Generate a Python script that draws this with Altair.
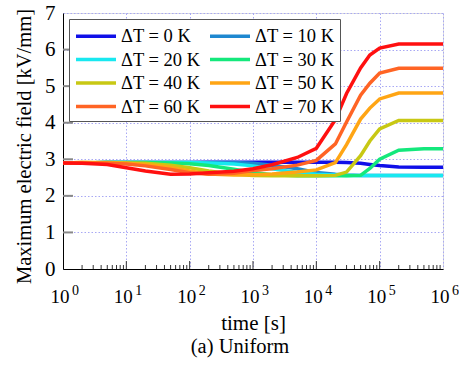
import altair as alt
import pandas as pd

# ---- data ----
times = [1, 2, 5, 10, 20, 50, 100, 200, 500, 1e3, 2e3, 5e3, 1e4, 2e4, 3e4, 5e4, 7e4, 1e5, 2e5, 5e5, 1e6]

series_names = ["ΔT = 0 K", "ΔT = 10 K", "ΔT = 20 K", "ΔT = 30 K",
                "ΔT = 40 K", "ΔT = 50 K", "ΔT = 60 K", "ΔT = 70 K"]
series_colors = ["#1010e8", "#1e88d0", "#18e8f0", "#14e87c",
                 "#c8c814", "#ffa514", "#ff6424", "#ff1010"]

e_0K = [2.90, 2.90, 2.91, 2.91, 2.91, 2.91, 2.91, 2.92, 2.92, 2.92, 2.92, 2.92, 2.92, 2.92, 2.91, 2.89, 2.86, 2.83, 2.79, 2.78, 2.78]
e_10K = [2.90, 2.90, 2.91, 2.91, 2.91, 2.91, 2.91, 2.91, 2.91, 2.89, 2.84, 2.74, 2.64, 2.59, 2.57, 2.56, 2.56, 2.56, 2.56, 2.56, 2.56]
e_20K = [2.90, 2.90, 2.91, 2.91, 2.91, 2.91, 2.91, 2.90, 2.87, 2.82, 2.74, 2.64, 2.59, 2.57, 2.56, 2.56, 2.56, 2.56, 2.56, 2.56, 2.56]
e_30K = [2.90, 2.90, 2.91, 2.91, 2.91, 2.90, 2.88, 2.83, 2.73, 2.64, 2.58, 2.55, 2.55, 2.55, 2.55, 2.56, 2.75, 3.00, 3.25, 3.29, 3.29]
e_40K = [2.90, 2.91, 2.91, 2.90, 2.89, 2.84, 2.77, 2.68, 2.59, 2.56, 2.55, 2.55, 2.55, 2.56, 2.65, 3.10, 3.50, 3.83, 4.06, 4.06, 4.06]
e_50K = [2.90, 2.91, 2.90, 2.89, 2.86, 2.78, 2.68, 2.60, 2.57, 2.58, 2.60, 2.65, 2.71, 2.91, 3.40, 4.10, 4.40, 4.65, 4.81, 4.81, 4.81]
e_60K = [2.90, 2.90, 2.89, 2.87, 2.82, 2.72, 2.63, 2.59, 2.62, 2.69, 2.74, 2.84, 2.97, 3.42, 4.02, 4.75, 5.08, 5.36, 5.49, 5.49, 5.49]
e_70K = [2.90, 2.89, 2.86, 2.77, 2.68, 2.59, 2.60, 2.63, 2.67, 2.74, 2.85, 3.05, 3.30, 4.08, 4.80, 5.50, 5.85, 6.04, 6.15, 6.15, 6.15]

series_values = [e_0K, e_10K, e_20K, e_30K, e_40K, e_50K, e_60K, e_70K]

x_decades = [1, 10, 100, 1000, 10000, 100000, 1000000]
x_tick_base = "10"
x_tick_exponents = ["0", "1", "2", "3", "4", "5", "6"]
x_minor = [k * 10 ** e for e in range(6) for k in range(2, 10)]
x_inner_major = [10, 100, 1000, 10000, 100000]
y_ticks = [0, 1, 2, 3, 4, 5, 6, 7]
y_inner = [1, 2, 3, 4, 5, 6]

rows = []
for idx, (name, vals) in enumerate(zip(series_names, series_values)):
    for t, v in zip(times, vals):
        rows.append({"series": name, "idx": idx, "t": t, "E": v})
df = pd.DataFrame(rows)

FONT = "Liberation Serif"

xscale = alt.Scale(type="log", domain=[1, 1e6])
yscale = alt.Scale(domain=[0, 7])
grid_color = "#a8a8f4"

x_axis = alt.Axis(values=x_decades, title="time [s]", grid=True,
                  gridColor=grid_color, gridDash=[1.5, 2], gridWidth=1,
                  ticks=False, labelPadding=18, labelOffset=-3.5,
                  labelExpr=f"'{x_tick_base}'",
                  labelFont=FONT, labelFontSize=19, labelColor="black",
                  titleFont=FONT, titleFontSize=21, titleFontWeight="normal",
                  titleColor="black", titlePadding=6,
                  domainColor="black", labelFlush=False)
y_axis = alt.Axis(values=y_ticks, title="Maximum electric field [kV/mm]",
                  grid=True, gridColor=grid_color, gridDash=[1.5, 2], gridWidth=1,
                  ticks=False, labelPadding=8,
                  labelFont=FONT, labelFontSize=21, labelColor="black",
                  titleFont=FONT, titleFontSize=20.5, titleFontWeight="normal",
                  titleColor="black", titlePadding=10, titleY=133,
                  domainColor="black")

lines = alt.Chart(df).mark_line(strokeWidth=3.5, clip=True).encode(
    x=alt.X("t:Q", scale=xscale, axis=x_axis),
    y=alt.Y("E:Q", scale=yscale, axis=y_axis),
    color=alt.Color("series:N", sort=series_names,
                    scale=alt.Scale(domain=series_names, range=series_colors),
                    legend=alt.Legend(title=None, orient="none", legendX=6, legendY=6,
                                      columns=2, direction="horizontal",
                                      symbolType="M-2,0H2", symbolSize=400,
                                      symbolStrokeWidth=3.5, labelFont=FONT,
                                      labelFontSize=18.5, labelColor="black",
                                      strokeColor="#555555", fillColor="white",
                                      padding=5, rowPadding=1.5, columnPadding=2,
                                      labelOffset=13, symbolOffset=10)),
    detail="idx:O",
)

minor_df = pd.DataFrame({"t": x_minor})
major_df = pd.DataFrame({"t": x_inner_major})
ytick_df = pd.DataFrame({"E": y_inner})
exp_df = pd.DataFrame({"t": x_decades, "exp": x_tick_exponents})

minor_ticks = alt.Chart(minor_df).mark_rule(color="#333333", strokeWidth=1).encode(
    x=alt.X("t:Q", scale=xscale, axis=x_axis),
    y=alt.value(256), y2=alt.value(252))
major_ticks = alt.Chart(major_df).mark_rule(color="#333333", strokeWidth=1).encode(
    x=alt.X("t:Q", scale=xscale, axis=x_axis),
    y=alt.value(256), y2=alt.value(248))
y_tick_marks = alt.Chart(ytick_df).mark_rule(color="#888888", strokeWidth=2).encode(
    y=alt.Y("E:Q", scale=yscale, axis=y_axis),
    x=alt.value(0), x2=alt.value(10))
exponents = alt.Chart(exp_df).mark_text(font=FONT, fontSize=14, color="black",
                                        baseline="alphabetic", dx=12.5).encode(
    x=alt.X("t:Q", scale=xscale, axis=x_axis),
    y=alt.value(282),
    text="exp:N")

chart = alt.layer(lines, minor_ticks, major_ticks, y_tick_marks, exponents).properties(
    width=380, height=256,
    padding={"left": 63, "top": 13, "right": 16, "bottom": 100},
    autosize=alt.AutoSizeParams(type="none"),
    title=alt.TitleParams("(a) Uniform", orient="bottom", font=FONT, fontSize=20.5,
                          fontWeight="normal", color="black", offset=4, dx=-13),
).configure_view(stroke="#555555", strokeWidth=1.5).configure_axis(
    titleFontWeight="normal").configure(background="white")

chart.save("out.html", embed_options={"renderer": "svg", "actions": False})
